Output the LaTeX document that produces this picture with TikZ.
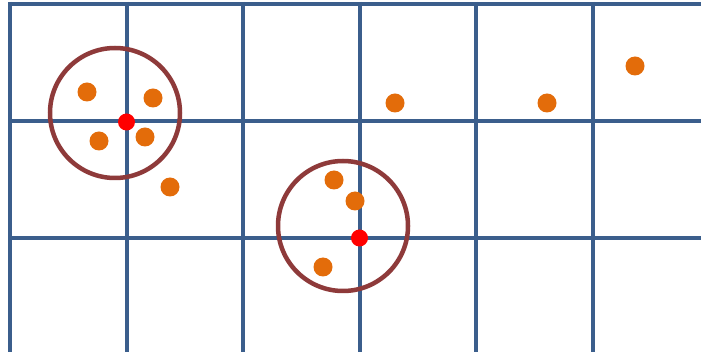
\documentclass[tikz,border=0pt]{standalone}
\definecolor{gridblue}{HTML}{3B5E8C}
\definecolor{ringbrown}{HTML}{8E3A3A}
\definecolor{dotorange}{HTML}{E36C0A}
\definecolor{dotred}{HTML}{FF0000}
\tikzset{
  gridline/.style={draw=gridblue, line width=4pt},
  ring/.style={circle, draw=ringbrown, line width=4.5pt, minimum size=130pt, inner sep=0pt},
  pt/.style={circle, fill=dotorange, minimum size=19pt, inner sep=0pt},
  center/.style={circle, fill=dotred, minimum size=17pt, inner sep=0pt}
}
\begin{document}
\begin{tikzpicture}[x=1pt,y=-1pt]
\useasboundingbox (0,0) rectangle (701,352);
\fill[white] (0,0) rectangle (701,352);
% grid
\foreach \x in {10,126.5,243,359.5,476,592.5}
  \draw[gridline] (\x,2) -- (\x,352);
\foreach \y in {4,121,238}
  \draw[gridline] (8,\y) -- (701,\y);
% rings
\node[ring] (r1) at (115,113) {};
\node[ring] (r2) at (343,226) {};
% centers
\node[center] (c1) at (126.5,122) {};
\node[center] (c2) at (359.5,238) {};
% points
\node[pt] (p1) at (87,92) {};
\node[pt] (p2) at (153,98) {};
\node[pt] (p3) at (99,141) {};
\node[pt] (p4) at (145,137) {};
\node[pt] (p5) at (170,187) {};
\node[pt] (p6) at (334,180) {};
\node[pt] (p7) at (355,201) {};
\node[pt] (p8) at (323,267) {};
\node[pt] (p9) at (395,103) {};
\node[pt] (p10) at (547,103) {};
\node[pt] (p11) at (635,66) {};
\end{tikzpicture}
\end{document}
